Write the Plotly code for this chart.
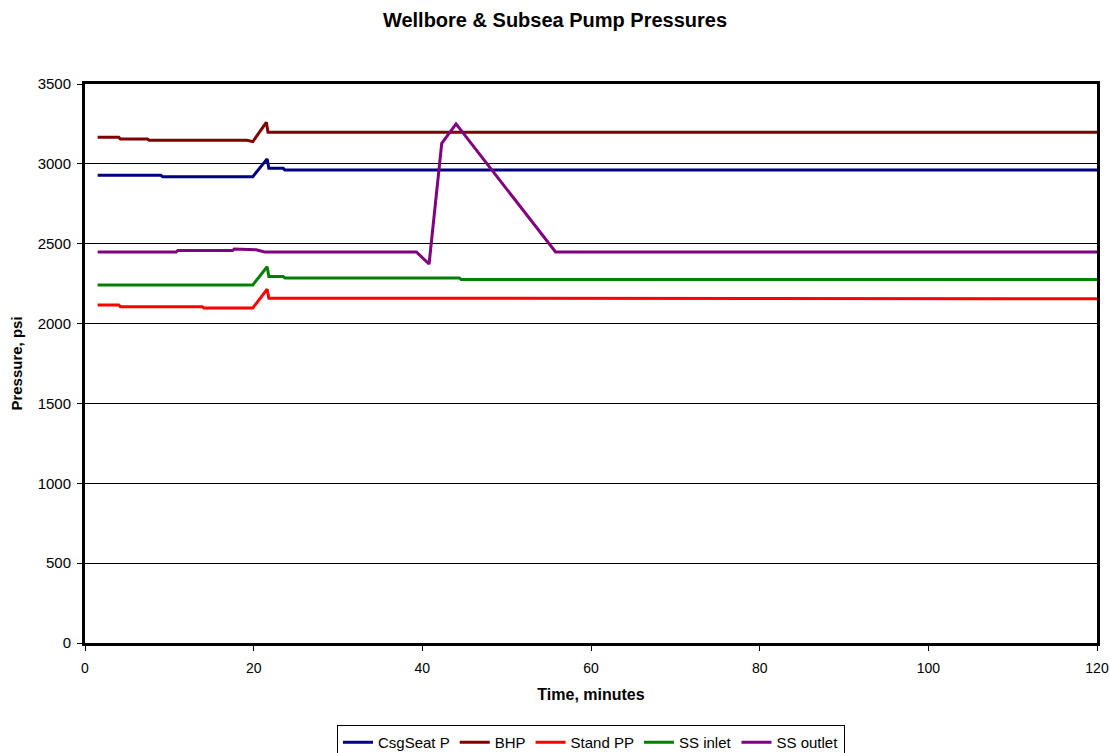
import plotly.graph_objects as go

# Time (minutes) and pressure (psi)
csg_t = [1.5, 9.0, 9.2, 19.9, 21.6, 21.8, 23.5, 23.7, 120]
csg_p = [2928, 2928, 2920, 2920, 3031, 2972, 2972, 2962, 2962]

bhp_t = [1.5, 4.0, 4.2, 7.4, 7.6, 19.2, 19.9, 21.5, 21.7, 120]
bhp_p = [3166, 3166, 3156, 3156, 3148, 3148, 3139, 3260, 3198, 3198]

spp_t = [1.5, 4.0, 4.2, 13.9, 14.1, 19.9, 21.6, 21.8, 120]
spp_p = [2117, 2117, 2106, 2106, 2098, 2098, 2215, 2159, 2155]

ssin_t = [1.5, 19.9, 21.6, 21.8, 23.5, 23.7, 44.4, 44.6, 120]
ssin_p = [2242, 2242, 2356, 2294, 2294, 2286, 2286, 2276, 2276]

ssout_t = [1.5, 10.8, 11.0, 17.5, 17.7, 20.3, 21.3, 39.3, 40.8, 42.3, 44.0, 55.8, 120]
ssout_p = [2448, 2448, 2457, 2457, 2467, 2462, 2448, 2448, 2373, 3129, 3250, 2448, 2448]

names = ["CsgSeat P", "BHP", "Stand PP", "SS inlet", "SS outlet"]
colors = ["#000080", "#800000", "#FF0000", "#008000", "#800080"]
series = [(csg_t, csg_p), (bhp_t, bhp_p), (spp_t, spp_p), (ssin_t, ssin_p), (ssout_t, ssout_p)]

x_ticks = [0, 20, 40, 60, 80, 100, 120]
y_ticks = [0, 500, 1000, 1500, 2000, 2500, 3000, 3500]

FONT = "Arial, Liberation Sans, sans-serif"

fig = go.Figure()
for (t, p), n, c in zip(series, names, colors):
    fig.add_trace(go.Scatter(x=t, y=p, name=n, mode="lines",
                             line=dict(color=c, width=3)))

fig.update_layout(
    width=1110, height=753,
    margin=dict(l=85, r=13, t=84, b=110, autoexpand=False),
    paper_bgcolor="white", plot_bgcolor="white",
    font=dict(family=FONT, size=14, color="black"),
    title=dict(text="<b>Wellbore & Subsea Pump Pressures</b>", x=0.5, xanchor="center",
               xref="container", y=0.973, yanchor="middle", font=dict(size=20)),
    showlegend=True,
    legend=dict(orientation="h", x=0.5, xanchor="center", xref="paper",
                y=(753 - 725) / 753, yanchor="top", yref="container",
                bordercolor="black", borderwidth=1, font=dict(size=15),
                itemwidth=30, tracegroupgap=0),
)
fig.update_xaxes(range=[0, 120], tickvals=x_ticks, showgrid=False, zeroline=False,
                 showline=True, linecolor="black", linewidth=3, mirror=True,
                 ticks="outside", ticklen=5, tickcolor="black", automargin=False,
                 tickfont=dict(size=14), ticklabelstandoff=5,
                 title=dict(text="<b>Time, minutes</b>", font=dict(size=16), standoff=15))
fig.update_yaxes(range=[0, 3500], tickvals=y_ticks, showgrid=True, gridcolor="black",
                 gridwidth=1, zeroline=False,
                 showline=True, linecolor="black", linewidth=3, mirror=True,
                 ticks="outside", ticklen=5, tickcolor="black", automargin=False,
                 tickfont=dict(size=15), ticklabelstandoff=3,
                 title=dict(text="<b>Pressure, psi</b>", font=dict(size=15), standoff=12))

fig.write_html("out.html")
